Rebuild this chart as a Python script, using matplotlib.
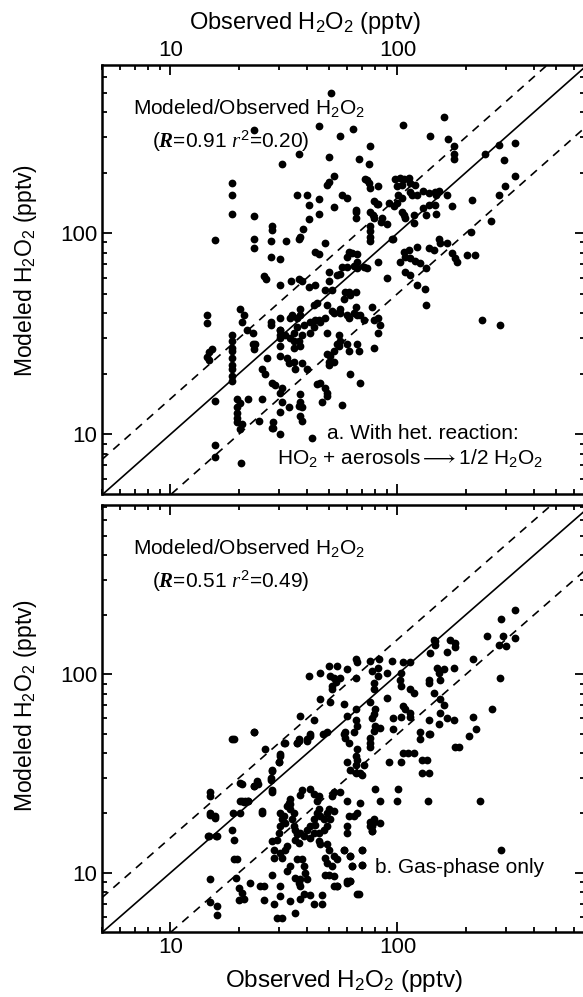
import matplotlib
matplotlib.use("Agg")
import matplotlib.pyplot as plt
import matplotlib.ticker as ticker

plt.rcParams['font.family'] = ['Liberation Sans', 'DejaVu Sans']
plt.rcParams['mathtext.fontset'] = 'custom'
plt.rcParams['mathtext.rm'] = 'Liberation Sans'
plt.rcParams['mathtext.it'] = 'Liberation Serif:italic'
plt.rcParams['mathtext.bf'] = 'Liberation Serif:bold:italic'

# panel a: with heterogeneous HO2 uptake (observed, modeled) in pptv
het_obs = [51, 45, 64, 56, 23.3, 106, 160, 139, 167, 76, 37, 50, 68, 75, 31,
           177, 177, 178, 244, 279, 330, 294, 330, 299, 279, 259, 213, 211, 202, 220, 236, 284,
           18.7, 18.7, 18.7, 15.7, 23.3, 23.3, 23.3, 28, 28, 27.6, 27.6, 30.5, 25.8, 26.5,
           32.4, 36.7, 37.4, 38.4, 36, 40, 40.8, 40.8, 45, 45, 48.9, 49.8, 52.8, 52.5, 48, 43.5, 45,
           57, 60, 65.4, 65.4, 65.4, 72, 73.4, 75, 76, 82.5, 78.5, 81, 76, 78, 78.5, 75.5, 76, 75.5, 76,
           85.5, 84.5, 90, 92, 82.5, 96, 96.5, 99.5,
           98, 103, 106.5, 112, 99.5, 104.5, 113, 120, 101, 104.5, 116, 113, 122, 130, 137, 147,
           104.5, 106.5, 108, 118, 118, 133, 137, 147, 148, 130, 148, 152, 165, 174,
           152, 154, 165, 174, 180, 183, 145, 137,
           122, 112, 106.5, 108, 113, 120, 126, 133,
           103, 108, 113, 122, 132, 133, 95, 90,
           82, 73.4, 71, 66.5, 66.5, 63, 61, 60, 64.6, 66.5,
           60, 57, 55.8, 54.3, 49.8, 49.8, 51.5, 48, 43.5, 40.6, 38, 36.7, 34, 30.5,
           44.2, 42.8, 37.4, 37.4, 36, 34.3, 27.6, 30.5, 33.8,
           48.9, 51.5, 52.5, 56.1, 60, 61, 66.5,
           56.1, 58, 61, 62, 65.4, 59,
           65.4, 64.3, 68.7, 71, 78.5, 82.5, 84, 77.5,
           41.3, 43.5, 45, 38.7, 36, 34.9, 32, 30.5, 30.5,
           33.8, 34.9, 38, 41.3, 42.8, 45.8, 48,
           36.7, 37.4, 34.9, 30.5, 30.5, 32.6, 34.9, 38, 40, 35.5, 33.2,
           26.7, 25.4, 26.2, 28, 29, 31,
           30.5, 31, 30.5, 28.3, 28.3, 30.5,
           33.2, 37.4, 37.4, 38, 37.4, 38, 36.7, 42,
           44.2, 45.8, 48, 48.9, 48.9, 46.6,
           49.8, 49.8, 50.6, 52.5,
           48.9, 55.3, 56.1, 55.3, 52.5, 48.9,
           57, 62, 68.7,
           54.3, 60, 61, 66.5, 67.5, 78.5, 82.5,
           22, 25.4, 19.7, 20.3, 19.7, 19.7, 19.7, 19.7, 20.6, 20.3,
           24.5, 28,
           15.7, 15.7, 15.7, 20.5,
           18.7, 18.7, 18.7, 18.7, 18.7, 18.7, 18.7, 18.7, 18.7,
           20.3, 21, 20.6, 21.8, 23,
           23, 23.7, 23.3,
           14.5, 14.5, 14.8, 14.5, 15.3, 14.8,
           27.6, 30.5, 30.3]
het_mod = [500, 341, 331, 304, 326, 344, 379, 304, 293, 271, 246, 239, 234, 220, 220,
           271, 246, 233, 246, 274, 282, 231, 192, 172, 155, 115, 146, 101, 78, 78, 37, 35,
           178, 155, 124, 92, 121, 93, 84, 108, 104, 91, 76, 74, 61, 59,
           91, 94, 96, 105, 154, 154, 138, 117, 147, 125, 174, 180, 192, 135, 89, 81, 79,
           155, 149, 128, 119, 131, 186, 184, 178, 168, 171, 144, 139, 128, 123, 119, 109, 102, 96, 91,
           119, 114, 111, 141, 139, 94, 136, 141,
           186, 188, 185, 188, 171, 174, 178, 174, 155, 149, 155, 160, 155, 162, 159, 160,
           128, 123, 119, 123, 112, 123, 138, 138, 124, 133, 155, 162, 155, 136,
           94, 89, 89, 80, 75, 72, 82, 84,
           85, 82, 81, 76, 75, 73, 71, 67,
           72, 64, 62, 55, 53, 44, 94, 60,
           72, 67, 68, 72, 79, 80, 81, 76, 69, 67,
           68, 68, 63, 62, 64, 58, 52, 52, 55, 54, 58, 59, 58, 55,
           45, 44, 42, 39, 38, 39, 35, 38, 38,
           44, 41, 40, 40, 39, 38, 39,
           42, 47, 51, 49, 51, 51,
           43, 40, 39, 37, 37, 38, 35, 43,
           36, 37, 37, 35, 34, 32, 31, 33, 30,
           30, 29, 31, 32, 34, 36, 38,
           29, 27.6, 27, 27.6, 24.6, 24, 23, 22.5, 21, 21, 22.5,
           24, 21, 20, 18, 17.6, 17,
           16, 14.4, 12.9, 11.5, 10.8, 10,
           13.6, 15.8, 14.4, 13.6, 12.3, 11.6, 13.8, 9.6,
           17.8, 18, 17, 16, 15.5, 14.4,
           23, 22, 24.6, 23,
           32, 31, 29, 27.6, 26, 25,
           14, 20, 18,
           28, 28, 26, 28, 26, 27, 32,
           15, 15, 15, 14.3, 13.6, 12.8, 12.1, 11.5, 11.2, 10.6,
           11.6, 10.8,
           14.7, 8.9, 7.7, 7.2,
           31, 29, 27, 26, 24, 22, 21, 19.5, 18.5,
           42, 39, 36, 33, 32,
           28, 28, 26.5,
           39, 35.6, 25.6, 24.3, 26.5, 23.5,
           36, 33, 31]

# panel b: gas-phase chemistry only
gas_obs = [330, 286, 292, 281, 300, 330, 249, 284, 260, 232, 286,
           216, 222, 206, 215,
           180, 178, 171, 165, 180,
           147, 139, 150, 152, 154, 160, 145, 147,
           154, 165, 177, 180, 186,
           137, 137, 145, 137, 152, 154, 139, 160,
           135, 137, 128, 128, 136,
           114, 106, 104, 103, 104, 113, 118,
           106, 108, 113, 113, 104, 96, 96, 126, 126, 137,
           118, 106, 111, 104, 92, 101, 100,
           90, 95, 90, 84,
           80, 84, 78.5, 84, 77.5, 77.5,
           83, 82.5, 82.5, 76, 77.5, 78.5, 78.5, 76, 80, 78.5, 77.5, 80, 78.5, 76, 75.5, 76,
           65.4, 66.5, 65.4, 60, 56, 52.5, 53.5, 51.5, 51.5, 50.6, 49.8, 54.3, 45.8, 40.6, 45.8, 50.6,
           58, 60, 65.4, 65.4, 66.5, 64.3, 59, 59, 58, 61, 66.5, 65.4, 66.5, 65.4, 60, 62, 65.4, 68.7, 70, 71,
           48.9, 47, 42.8, 37.4, 41.3, 40, 36.7, 36, 32, 30.5, 30, 26.2, 28, 27.6, 28, 25.4,
           24, 23.3, 22, 21, 20.3, 20.3, 18.7, 23.3,
           19, 23.3, 20.6, 24.2, 23.3, 22, 21.3, 20.6, 25.4, 27.6, 28, 28,
           31.5, 36, 36.7, 40, 41.3, 30.5, 30,
           14.8, 15.9, 15, 15, 15.8,
           18.7, 19, 19, 19.7, 19.4, 18.9, 20.3,
           20, 20.6, 21, 20, 22.5, 24.9, 25.8, 25.8, 28.5, 29.5, 31, 30.5, 30.5, 33.8, 35.5,
           37.4, 37.4, 38.7, 41.3, 42.8, 46.6, 46.6,
           52.5, 54.3, 60, 62, 67.5, 70, 70, 63, 62, 58,
           28, 29.5, 30, 30.5, 31, 30.5, 31.5, 32, 32.6, 33.2, 33.8, 33.8, 34.9, 34.3, 34.9, 35.5,
           36, 35.5, 36.7, 32.6, 32, 30.5, 28.5, 28.5, 31, 33.8, 36, 38, 38.7, 39.3, 40, 37.4,
           36.7, 35.5, 32.6, 28,
           37.4, 38.7, 40, 41.3, 42.8, 44.2, 45, 45.8, 47.4, 48.9, 49.8, 52.5, 50.6, 48.9, 47.4,
           45, 43.5, 42.8, 41.3, 45, 45.8, 48.9, 49.8, 48, 48.9, 51.5, 52.5, 54.3, 49.8, 48,
           52.5, 58, 60, 61, 64.3, 66.5, 68.7, 60, 56.1, 52.5, 51.5, 45, 44.2, 42.8, 41.3, 38,
           37.4, 33.8, 60, 62, 63, 70, 62, 66.5, 54.3, 60, 70,
           76, 78.5, 77.5, 76,
           15, 15, 15.7, 14.7, 16, 15, 15, 16, 16]
gas_mod = [212, 190, 156, 140, 139, 153, 156, 96, 67, 23, 13.1,
           119, 53, 49, 61,
           144, 108, 150, 130, 138,
           148, 128, 108, 102, 94, 106, 150, 140,
           75, 60, 59, 43, 43,
           94, 91, 81, 59, 56, 64, 50, 70,
           37, 32, 32, 37, 23,
           115, 115, 102, 94, 87, 84, 81,
           69, 67, 64, 61, 61, 60, 53, 51, 47, 50,
           40, 40, 40, 36, 36, 26.5, 23,
           102, 117, 76, 54,
           26.5, 23, 18, 17.8, 17.2, 16.2,
           119, 108, 98, 117, 104, 91, 84, 73, 67, 63, 60, 55, 52, 48, 45, 43,
           119, 115, 96, 106, 96, 96, 92, 87, 84, 98, 110, 110, 102, 98, 75, 73,
           71, 62, 67, 59, 55, 51, 51, 48, 50, 45, 42, 39, 37, 35, 36, 33, 32, 32, 31, 35,
           51, 50, 59, 62, 50, 47, 47, 45, 45, 39, 36, 42, 33, 30, 26, 20,
           29, 27.5, 23, 22.8, 23, 28.5, 47, 51,
           47, 51, 28, 28, 27.5, 23, 23, 23, 20.4, 29.3, 25.5, 32.7,
           45, 45, 46, 46, 49, 39.5, 36,
           15.3, 15.3, 24.5, 19.6, 18.9,
           16.5, 14.7, 11.7, 11.7, 9.4, 20, 20,
           8.4, 7.9, 7.4, 7.3, 8.9, 8.6, 8.6, 7.3, 7.0, 5.9, 5.9, 8.6, 7.6, 7.2, 6.3,
           7.4, 8.6, 7.8, 7.7, 7.0, 7.0, 7.7,
           8.6, 8.6, 8.9, 9.1, 7.8, 11, 13.1, 10.8, 12.1, 13.1,
           14.4, 14.7, 15.9, 17.2, 18.6, 20, 19.3, 17.8, 21.8, 22.6, 23.5, 20.9, 20, 18.6, 17.2, 16.5,
           15.6, 14.7, 14.1, 13.6, 13.1, 12.6, 13.1, 11.9, 11.9, 10.8, 11.7, 11.7, 10.8, 10, 9.3, 9.3,
           8.9, 9.4, 10.2, 9.8,
           15.9, 15.3, 16.5, 17.2, 18.6, 20, 20.9, 19.3, 18.6, 20, 20.9, 20.4, 18.6, 17.2, 16.5,
           15.9, 17.5, 15.9, 15, 14.4, 13.9, 13.9, 13.1, 11.9, 11.2, 10.8, 12.1, 11.7, 9.8, 9.8,
           9.6, 13.1, 17.2, 19.3, 19.3, 20, 22.6, 23, 25.5, 25.5, 24.5, 24.5, 23, 25, 26.5, 26,
           24.7, 22.2, 15.9, 12.1, 10.8, 11, 9.1, 7.8, 8.6, 9.1, 13.1,
           17.2, 18.6, 16.2, 18,
           25.5, 20, 19.3, 15.3, 15.3, 9.3, 7.1, 6.8, 6.1]

ratio_lines = [1.0, 1.5, 0.5]
ratio_styles = ['-', (0, (5, 4)), (0, (5, 4))]

panels = [
    dict(obs=het_obs, mod=het_mod, ylim=(5.05, 685), rect=[0.175, 0.5045, 0.8285, 0.4303],
         stats=r'($\mathbf{R}$=0.91 $\mathit{r}^2$=0.20)', ylab_y=0.52,
         notes=[(0.466, 0.142, 'a. With het. reaction:'),
                (0.362, 0.084, r'HO$_2$ + aerosols$\longrightarrow$1/2 H$_2$O$_2$')]),
    dict(obs=gas_obs, mod=gas_mod, ylim=(5.03, 715), rect=[0.175, 0.0652, 0.8285, 0.4283],
         stats=r'($\mathbf{R}$=0.51 $\mathit{r}^2$=0.49)', ylab_y=0.53,
         notes=[(0.565, 0.152, 'b. Gas-phase only')]),
]

fig = plt.figure(figsize=(5.83, 9.97), dpi=100)

for i, p in enumerate(panels):
    ax = fig.add_axes(p['rect'])
    ax.set_xscale('log')
    ax.set_yscale('log')
    ax.set_xlim(5, 670)
    ax.set_ylim(*p['ylim'])

    ax.plot(p['obs'], p['mod'], 'o', color='black', ms=5.6, mew=0, zorder=3)
    for r, ls in zip(ratio_lines, ratio_styles):
        ax.axline((10, 10 * r), (100, 100 * r), color='black', lw=1.2, ls=ls, zorder=2)

    fmt = ticker.FuncFormatter(lambda v, pos: f'{v:g}')
    ax.xaxis.set_major_formatter(fmt)
    ax.yaxis.set_major_formatter(fmt)
    ax.xaxis.set_minor_formatter(ticker.NullFormatter())
    ax.yaxis.set_minor_formatter(ticker.NullFormatter())
    ax.tick_params(which='both', direction='in', top=True, right=True, width=1.3,
                   labelsize=16, colors='black')
    ax.tick_params(which='major', length=7)
    ax.tick_params(which='minor', length=3.5)
    for s in ax.spines.values():
        s.set_linewidth(1.8)

    ax.set_ylabel(r'Modeled H$_2$O$_2$ (pptv)', fontsize=16.5)
    ax.yaxis.set_label_coords(-0.13, p['ylab_y'])
    if i == 0:
        ax.tick_params(axis='x', labeltop=True, labelbottom=False, pad=3)
        ax.xaxis.set_label_position('top')
        ax.set_xlabel(r'Observed H$_2$O$_2$ (pptv)', fontsize=17)
        ax.xaxis.set_label_coords(0.42, 1.085)
    else:
        ax.set_xlabel(r'Observed H$_2$O$_2$ (pptv)', fontsize=17.5)
        ax.xaxis.set_label_coords(0.5, -0.085)

    ax.text(0.064, 0.9, r'Modeled/Observed H$_2$O$_2$', transform=ax.transAxes,
            fontsize=15, va='center', ha='left')
    ax.text(0.104, 0.822, p['stats'], transform=ax.transAxes,
            fontsize=15, va='center', ha='left')
    for tx, ty, t in p['notes']:
        ax.text(tx, ty, t, transform=ax.transAxes, fontsize=15, va='center', ha='left')

fig.savefig('out.png', dpi=100)
